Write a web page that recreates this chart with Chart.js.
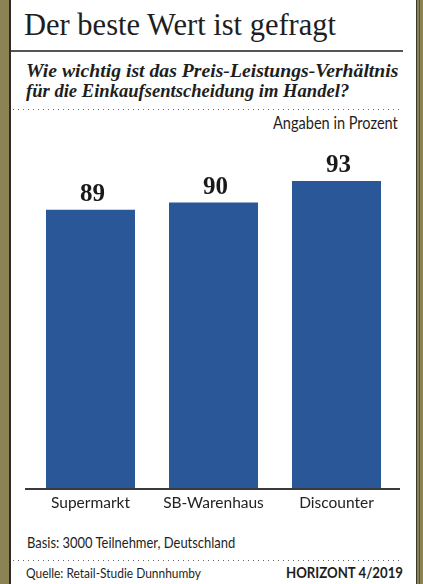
<!DOCTYPE html>
<html>
<head>
<meta charset="utf-8">
<script src="https://cdn.jsdelivr.net/npm/chart.js@4/dist/chart.umd.min.js"></script>
<style>
  html, body { margin: 0; padding: 0; }
  body { width: 423px; height: 584px; background: #8c8355; position: relative; overflow: hidden; }
  .panel { position: absolute; left: 9px; top: 0; width: 405px; height: 584px; background: #fff;
           border-left: 2px solid #2b2b2b; border-right: 1px solid #3a3a2a; }
  .edge { position: absolute; left: 419px; top: 0; width: 1px; height: 584px; background: #5c5535; }
  .txt { position: absolute; white-space: nowrap; color: #1e1e1e; line-height: 1; }
  .serif { font-family: "Liberation Serif", "Times New Roman", serif; }
  .sans { font-family: Lato, "Liberation Sans", Arial, sans-serif; }
  .l { transform-origin: left center; }
  .r { transform-origin: right center; }
  #title { left: 24px; top: 10px; font-size: 30.5px; }
  #rule { position: absolute; left: 11px; top: 50px; width: 392px; height: 2px; background: #555; }
  .sub { left: 26px; font-size: 19.5px; font-weight: bold; font-style: italic; }
  #sub1 { top: 60.7px; transform: scaleX(1.01); }
  #sub2 { top: 80.7px; transform: scaleX(0.953); }
  .dots { position: absolute; left: 13px; width: 390px; height: 1px;
          background: repeating-linear-gradient(to right, #666 0 1px, transparent 1px 5px); }
  #unit { right: 25px; top: 113.9px; font-size: 17px; transform: scaleX(0.856); }
  #basis { left: 27px; top: 534.7px; font-size: 15px; transform: scaleX(0.863); }
  #quelle { left: 26px; top: 565.6px; font-size: 14px; transform: scaleX(0.853); }
  #horizont { right: 20px; top: 564.7px; font-size: 15px; font-weight: bold; transform: scaleX(0.88); }
  #chart { position: absolute; left: 0; top: 0; }
</style>
</head>
<body>
<div class="panel"></div>
<div class="edge"></div>
<div class="txt serif" id="title">Der beste Wert ist gefragt</div>
<div id="rule"></div>
<div class="txt serif sub l" id="sub1">Wie wichtig ist das Preis-Leistungs-Verhältnis</div>
<div class="txt serif sub l" id="sub2">für die Einkaufsentscheidung im Handel?</div>
<div class="dots" style="top:109px"></div>
<div class="txt sans r" id="unit">Angaben in Prozent</div>
<canvas id="chart" width="423" height="520"></canvas>
<div class="txt sans l" id="basis">Basis: 3000 Teilnehmer, Deutschland</div>
<div class="dots" style="top:560px"></div>
<div class="txt sans l" id="quelle">Quelle: Retail-Studie Dunnhumby</div>
<div class="txt sans r" id="horizont">HORIZONT 4/2019</div>

<script>
// Daten
const categories = ['Supermarkt', 'SB-Warenhaus', 'Discounter'];
const values = [89, 90, 93];

const barColor = '#2a5798';

// Werte über den Balken
const valueLabels = {
  id: 'valueLabels',
  afterDatasetsDraw(chart) {
    const ctx = chart.ctx;
    const meta = chart.getDatasetMeta(0);
    ctx.save();
    ctx.font = 'bold 25px "Liberation Serif", "Times New Roman", serif';
    ctx.fillStyle = '#1a1a1a';
    ctx.textAlign = 'center';
    ctx.textBaseline = 'alphabetic';
    meta.data.forEach((bar, i) => {
      ctx.fillText(String(values[i]), bar.x + 2, bar.y - 9);
    });
    ctx.restore();
  }
};

// Grundlinie, etwas breiter als die Zeichenfläche
const baseLine = {
  id: 'baseLine',
  afterDatasetsDraw(chart) {
    const { ctx, chartArea } = chart;
    ctx.save();
    ctx.strokeStyle = '#3a3a3a';
    ctx.lineWidth = 2;
    ctx.beginPath();
    ctx.moveTo(chartArea.left - 4, chartArea.bottom);
    ctx.lineTo(chartArea.right + 2, chartArea.bottom);
    ctx.stroke();
    ctx.restore();
  }
};

new Chart(document.getElementById('chart').getContext('2d'), {
  type: 'bar',
  data: {
    labels: categories,
    datasets: [{
      data: values,
      backgroundColor: barColor,
      borderWidth: 0,
      barPercentage: 0.7236,
      categoryPercentage: 1
    }]
  },
  options: {
    responsive: false,
    animation: false,
    devicePixelRatio: 1,
    layout: { padding: { left: 29, right: 25, top: 131, bottom: 0 } },
    plugins: { legend: { display: false }, tooltip: { enabled: false } },
    scales: {
      y: { display: false, min: 50, max: 100 },
      x: {
        grid: { display: false, drawTicks: false },
        border: { display: false },
        ticks: {
          color: '#222',
          padding: 5,
          font: { family: 'Lato, "Liberation Sans", Arial, sans-serif', size: 15.5 }
        },
        afterFit: s => { s.height = 31; }
      }
    }
  },
  plugins: [valueLabels, baseLine]
});
</script>
</body>
</html>
